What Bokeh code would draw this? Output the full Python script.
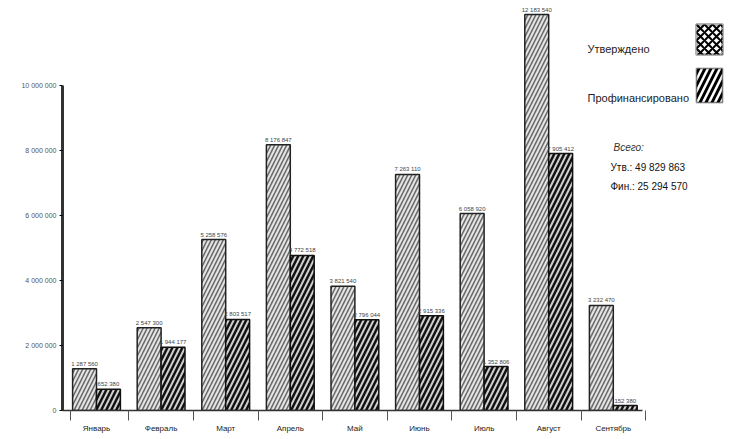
from bokeh.plotting import figure
from bokeh.models import Range1d, FixedTicker, BoxAnnotation, Label
from bokeh.core.properties import value
from bokeh.embed import file_html
from bokeh.resources import INLINE

categories = ["Январь", "Февраль", "Март", "Апрель", "Май", "Июнь", "Июль", "Август", "Сентябрь"]
plan = [1287560, 2547300, 5258576, 8176847, 3821540, 7263110, 6058920, 12183540, 3232470]
fact = [652380, 1944177, 2803517, 4772518, 2796044, 2915336, 1352806, 7905412, 152380]
y_ticks = [0, 2000000, 4000000, 6000000, 8000000, 10000000]
y_tick_labels = ["0", "2 000 000", "4 000 000", "6 000 000", "8 000 000", "10 000 000"]
series_names = ["Утверждено", "Профинансировано"]
total_names = ["Утв.", "Фин."]
total_title = "Всего:"

FONT = "Liberation Sans"
W, H = 750, 439
LEFT, FH = 62, 410
BOTTOM = H - FH
FW = W - LEFT
PX_PER_UNIT = 64.6
X0 = (62 - 96) / PX_PER_UNIT
X1 = X0 + FW / PX_PER_UNIT
Y1 = FH / 65 * 2e6


def dx(rx):
    return X0 + (rx - LEFT) / FW * (X1 - X0)


def dy(ry):
    return (FH - ry) / FH * Y1


def fmt(v):
    return f"{v:,}".replace(",", " ")


xs = list(range(len(categories)))
p = figure(width=W, height=H, output_backend="svg", toolbar_location=None,
           x_range=Range1d(X0, X1), y_range=Range1d(0, Y1),
           min_border_left=LEFT, min_border_right=0, min_border_top=0,
           min_border_bottom=BOTTOM)
p.outline_line_color = None
p.grid.grid_line_color = None
p.background_fill_color = "white"

bw = 0.37
xp = [i - bw / 2 for i in xs]
xf = [i + bw / 2 for i in xs]
p.vbar(x=xp, top=plan, width=bw, fill_color="#e4e4e4", line_color="#222", line_width=1.5,
       hatch_pattern="/", hatch_color="#666", hatch_scale=8, hatch_weight=1.5)
p.vbar(x=xf, top=fact, width=bw, fill_color="#111", line_color="#111", line_width=1.5,
       hatch_pattern="/", hatch_color="#d0d0d0", hatch_scale=10, hatch_weight=2)

p.text(x=xp, y=plan, text=[fmt(v) for v in plan], text_align="center", text_baseline="bottom",
       y_offset=-2, text_font_size="6px", text_color="#444", text_font=value(FONT))
p.text(x=xf, y=fact, text=[fmt(v) for v in fact], text_align="center", text_baseline="bottom",
       y_offset=-2, text_font_size="6px", text_color="#444", text_font=value(FONT))

# axes
yax = p.yaxis[0]
yax.ticker = FixedTicker(ticks=y_ticks)
yax.major_label_overrides = {t: l for t, l in zip(y_ticks, y_tick_labels)}
yax.bounds = (0, y_ticks[-1])
yax.axis_line_width = 3
yax.axis_line_color = "#333"
yax.major_tick_out = 3
yax.major_tick_in = 0
yax.minor_tick_out = 0
yax.minor_tick_in = 0
yax.major_label_text_font_size = "7px"
yax.major_label_text_color = "#555555"
yax.major_label_text_font = FONT
yax.major_label_standoff = 3

xax = p.xaxis[0]
bounds = [-0.4] + [i + 0.5 for i in xs]
xax.ticker = FixedTicker(ticks=xs, minor_ticks=bounds)
xax.major_label_overrides = {i: c for i, c in zip(xs, categories)}
xax.bounds = (X0, len(categories) - 0.55)
xax.axis_line_width = 1.5
xax.axis_line_color = "#333"
xax.major_tick_out = 0
xax.major_tick_in = 0
xax.minor_tick_out = 10
xax.minor_tick_in = 0
xax.minor_tick_line_color = "#555"
xax.major_label_text_font_size = "8px"
xax.major_label_text_color = "#222"
xax.major_label_text_font = FONT
xax.major_label_standoff = 3

# legend
p.add_layout(BoxAnnotation(left=dx(696), right=dx(722), top=dy(24), bottom=dy(54),
                           fill_color="white", fill_alpha=1, line_color="black", line_width=3,
                           hatch_pattern="x", hatch_color="black", hatch_scale=8, hatch_weight=2))
p.add_layout(BoxAnnotation(left=dx(696), right=dx(722), top=dy(68), bottom=dy(102),
                           fill_color="black", fill_alpha=1, line_color="black", line_width=2,
                           hatch_pattern="/", hatch_color="white", hatch_scale=12, hatch_weight=2.5))
p.add_layout(Label(x=dx(587), y=dy(48), text=series_names[0], text_font_size="11px",
                   text_baseline="middle", text_color="#222", text_font=FONT))
p.add_layout(Label(x=dx(587), y=dy(97), text=series_names[1], text_font_size="11px",
                   text_baseline="middle", text_color="#222", text_font=FONT))

p.add_layout(Label(x=dx(613), y=dy(147), text=total_title, text_font_size="10px",
                   text_font_style="italic", text_baseline="middle", text_color="#333", text_font=FONT))
p.add_layout(Label(x=dx(610), y=dy(167), text=f"{total_names[0]}: {fmt(sum(plan))}",
                   text_font_size="10px", text_baseline="middle", text_color="#111", text_font=FONT))
p.add_layout(Label(x=dx(610), y=dy(186), text=f"{total_names[1]}: {fmt(sum(fact))}",
                   text_font_size="10px", text_baseline="middle", text_color="#111", text_font=FONT))

open("out.html", "w").write(file_html(p, INLINE))
